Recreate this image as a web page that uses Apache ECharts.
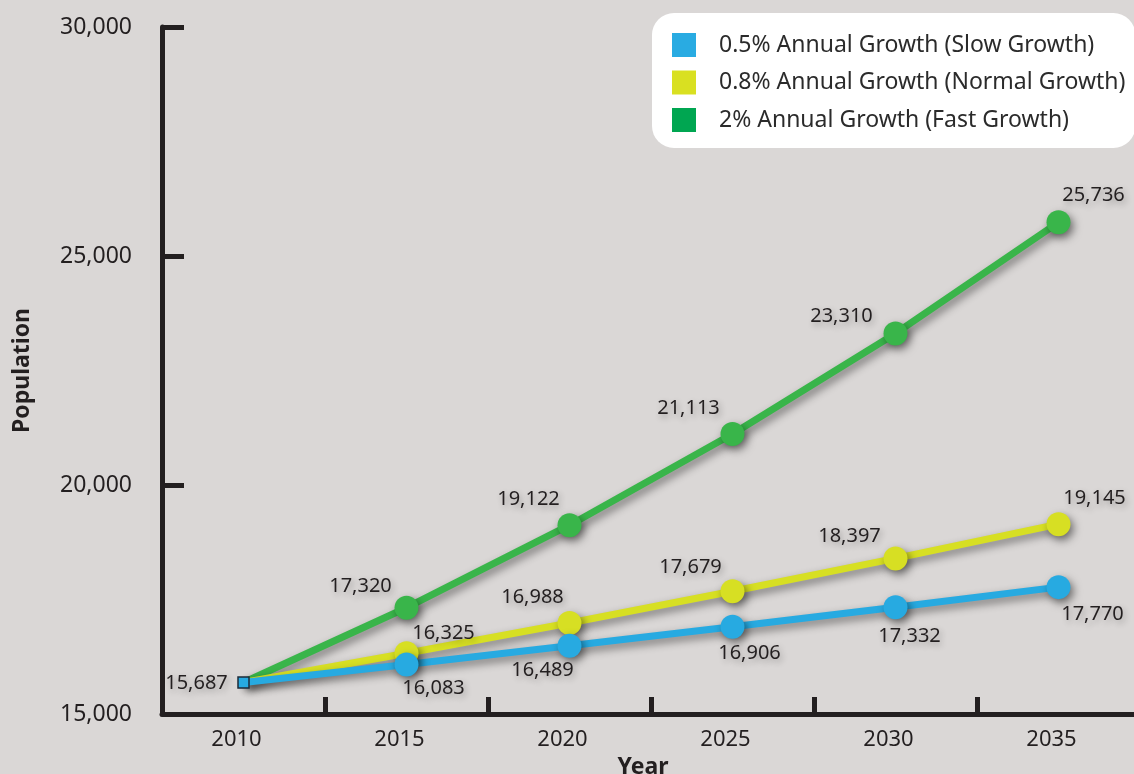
<!DOCTYPE html>
<html><head><meta charset="utf-8">
<script src="https://cdn.jsdelivr.net/npm/echarts@6/dist/echarts.min.js"></script>
<style>html,body{margin:0;padding:0;background:#dad7d6}#c{width:1134px;height:774px}</style>
</head><body><div id="c"></div>
<script>
// ---- data ----
const years = ['2010', '2015', '2020', '2025', '2030', '2035'];
const slowGrowth = [15687, 16083, 16489, 16906, 17332, 17770];
const normalGrowth = [15687, 16325, 16988, 17679, 18397, 19145];
const fastGrowth = [15687, 17320, 19122, 21113, 23310, 25736];
const seriesNames = [
  '0.5% Annual Growth (Slow Growth)',
  '0.8% Annual Growth (Normal Growth)',
  '2% Annual Growth (Fast Growth)'
];
const yMin = 15000, yMax = 30000, yStep = 5000;

// ---- styling ----
const FONT = 'Noto Sans';
const colors = { slow: '#27aae1', normal: '#d7df23', fast: '#39b54a' };
const legendColors = ['#29abe2', '#d9e021', '#00a651'];
const labelOffsets = {
  slow:   [[-47, 1], [27, 24], [-27, 24], [17, 27], [14, 29], [34, 27]],
  normal: [[0, 0], [37, -20], [-37, -26], [-42, -24], [-46, -22], [36, -26]],
  fast:   [[0, 0], [-46, -21], [-41, -26], [-44, -26], [-54, -17], [35, -27]]
};
const fmt = v => v.toLocaleString('en-US');

function makeSeries(name, values, color, offsets, isBase) {
  return {
    type: 'line',
    name: name,
    symbol: 'circle',
    symbolSize: 24,
    showAllSymbol: true,
    lineStyle: { color: color, width: 7, shadowColor: 'rgba(0,0,0,0.45)', shadowBlur: 8, shadowOffsetX: 3, shadowOffsetY: 4 },
    itemStyle: { color: color, shadowColor: 'rgba(0,0,0,0.5)', shadowBlur: 8, shadowOffsetX: 3, shadowOffsetY: 4 },
    label: {
      show: true, position: 'inside', formatter: p => fmt(p.value),
      fontFamily: FONT, fontSize: 20, color: '#231f20',
      textShadowColor: 'rgba(0,0,0,0.3)', textShadowBlur: 6, textShadowOffsetX: 2, textShadowOffsetY: 3
    },
    emphasis: { disabled: true },
    data: values.map((v, i) => {
      const item = { value: v, label: { offset: offsets[i] } };
      if (i === 0) {
        if (isBase) {
          item.symbol = 'rect';
          item.symbolSize = 11;
          item.itemStyle = { color: color, borderColor: '#1d2b3a', borderWidth: 1.5, shadowBlur: 0, shadowOffsetX: 0, shadowOffsetY: 0 };
        } else {
          item.symbol = 'none';
          item.label = { show: false };
        }
      }
      return item;
    })
  };
}

const chart = echarts.init(document.getElementById('c'), null, { renderer: 'canvas' });
chart.setOption({
  backgroundColor: '#dad7d6',
  animation: false,
  textStyle: { fontFamily: FONT },
  grid: { left: 162, top: 27, bottom: 60, width: 978, containLabel: false, outerBoundsMode: 'none' },
  legend: {
    orient: 'vertical', left: 652, top: 13,
    backgroundColor: '#ffffff', borderRadius: 22,
    padding: [20, 10, 16, 20],
    itemWidth: 24, itemHeight: 24, itemGap: 13.5,
    icon: 'rect',
    textStyle: { fontFamily: FONT, fontSize: 23, lineHeight: 24, color: '#2b2b2b', padding: [0, 0, 0, 18] },
    data: seriesNames.map((n, i) => ({ name: n, itemStyle: { color: legendColors[i] } }))
  },
  xAxis: {
    type: 'category', data: years, boundaryGap: true,
    name: 'Year', nameLocation: 'middle', nameGap: 36,
    nameTextStyle: { fontFamily: FONT, fontSize: 23, fontWeight: 'bold', color: '#231f20', padding: [0, 16, 0, 0] },
    axisLine: { show: true, lineStyle: { color: '#231f20', width: 5 } },
    axisTick: { show: true, inside: true, length: 17, alignWithLabel: false, lineStyle: { color: '#231f20', width: 5 } },
    axisLabel: { fontFamily: FONT, fontSize: 22, color: '#231f20', margin: 15, padding: [0, 14, 0, 0] },
    splitLine: { show: false }
  },
  yAxis: {
    type: 'value', min: yMin, max: yMax, interval: yStep,
    name: 'Population', nameLocation: 'middle', nameGap: 128, nameRotate: 90,
    nameTextStyle: { fontFamily: FONT, fontSize: 23, fontWeight: 'bold', color: '#231f20' },
    axisLine: { show: true, lineStyle: { color: '#231f20', width: 5 } },
    axisTick: { show: true, inside: true, length: 22, lineStyle: { color: '#231f20', width: 5 } },
    axisLabel: { fontFamily: FONT, fontSize: 23, color: '#231f20', margin: 30, padding: [0, 0, 8, 0], formatter: v => fmt(v) },
    splitLine: { show: false }
  },
  series: [
    makeSeries(seriesNames[2], fastGrowth, colors.fast, labelOffsets.fast, false),
    makeSeries(seriesNames[1], normalGrowth, colors.normal, labelOffsets.normal, false),
    makeSeries(seriesNames[0], slowGrowth, colors.slow, labelOffsets.slow, true)
  ]
});
</script>
</body></html>
